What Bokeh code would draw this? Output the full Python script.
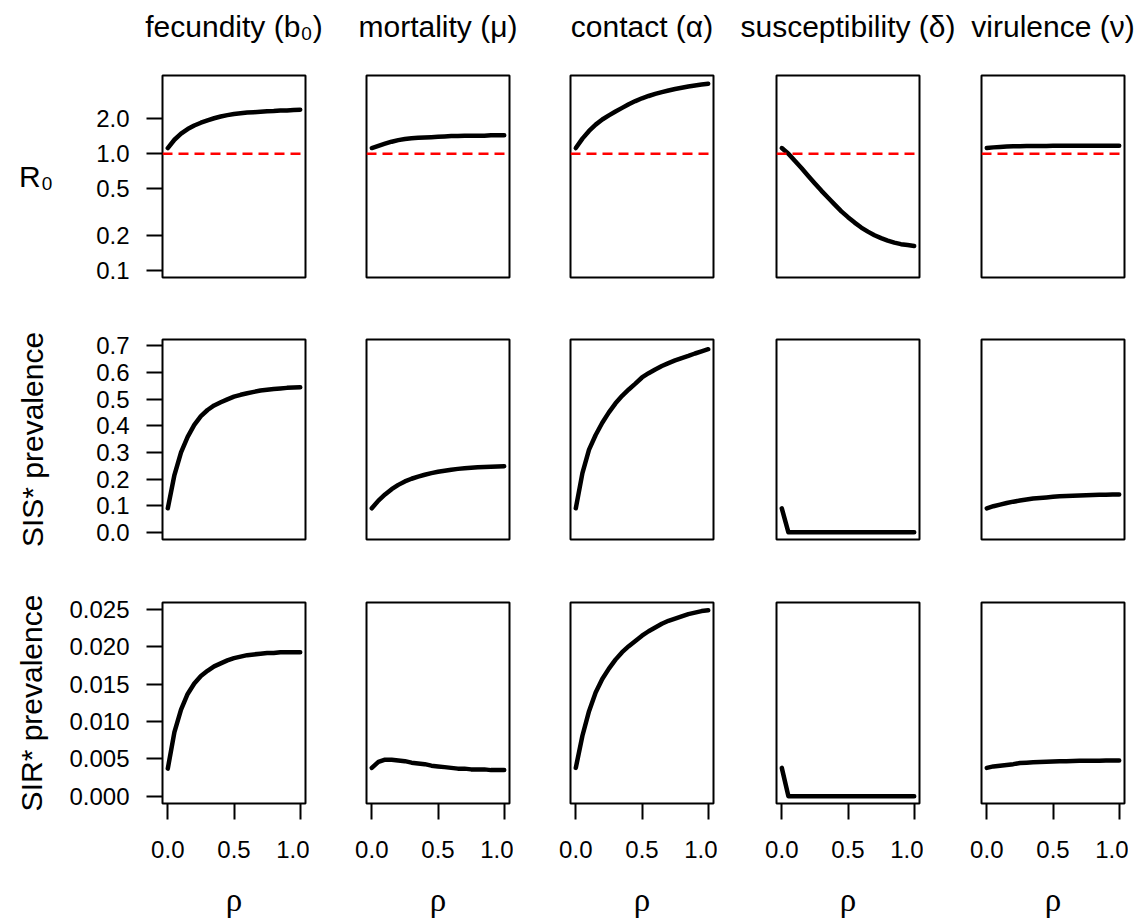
from bokeh.plotting import figure
from bokeh.layouts import gridplot, column
from bokeh.models import Range1d, FixedTicker, PrintfTickFormatter, Span
from bokeh.core.properties import value
from bokeh.embed import file_html
from bokeh.resources import INLINE

# ---------------- data ----------------
rho = [0.0, 0.05, 0.10, 0.15, 0.20, 0.25, 0.30, 0.35, 0.40, 0.45, 0.50,
       0.55, 0.60, 0.65, 0.70, 0.75, 0.80, 0.85, 0.90, 0.95, 1.0]

titles = ["fecundity (b\u2080)", "mortality (\u03bc)", "contact (\u03b1)",
          "susceptibility (\u03b4)", "virulence (\u03bd)"]
row_labels = ["R\u2080", "SIS* prevalence", "SIR* prevalence"]
x_label = "\u03c1"

# R0
r0_fecundity = [1.12, 1.32, 1.49, 1.63, 1.75, 1.85, 1.94, 2.02, 2.09, 2.15, 2.20,
                2.23, 2.26, 2.28, 2.30, 2.32, 2.33, 2.35, 2.36, 2.38, 2.39]
r0_mortality = [1.12, 1.17, 1.22, 1.27, 1.31, 1.34, 1.36, 1.37, 1.38, 1.39, 1.40,
                1.41, 1.42, 1.42, 1.43, 1.43, 1.43, 1.43, 1.44, 1.44, 1.44]
r0_contact = [1.12, 1.35, 1.57, 1.78, 1.97, 2.14, 2.31, 2.48, 2.67, 2.84, 3.00,
              3.14, 3.27, 3.39, 3.50, 3.60, 3.69, 3.79, 3.87, 3.94, 4.00]
r0_susceptibility = [1.12, 1.00, 0.865, 0.75, 0.645, 0.555, 0.48, 0.418, 0.365, 0.32, 0.285,
                     0.256, 0.232, 0.214, 0.199, 0.188, 0.179, 0.172, 0.167, 0.164, 0.161]
r0_virulence = [1.12, 1.135, 1.145, 1.152, 1.158, 1.162, 1.165, 1.167, 1.168, 1.169, 1.17,
                1.17, 1.17, 1.17, 1.17, 1.17, 1.17, 1.17, 1.17, 1.17, 1.17]

# SIS* prevalence
sis_fecundity = [0.09, 0.215, 0.300, 0.358, 0.403, 0.436, 0.459, 0.476, 0.488, 0.499, 0.509,
                 0.516, 0.522, 0.527, 0.532, 0.535, 0.538, 0.540, 0.542, 0.543, 0.544]
sis_mortality = [0.09, 0.119, 0.142, 0.162, 0.178, 0.191, 0.201, 0.209, 0.216, 0.222, 0.227,
                 0.231, 0.235, 0.238, 0.240, 0.242, 0.244, 0.245, 0.246, 0.247, 0.248]
sis_contact = [0.09, 0.222, 0.310, 0.365, 0.411, 0.450, 0.484, 0.512, 0.536, 0.558, 0.581,
               0.597, 0.611, 0.624, 0.635, 0.645, 0.654, 0.662, 0.671, 0.679, 0.687]
sis_susceptibility = [0.09, 0.0, 0.0, 0.0, 0.0, 0.0, 0.0, 0.0, 0.0, 0.0, 0.0,
                      0.0, 0.0, 0.0, 0.0, 0.0, 0.0, 0.0, 0.0, 0.0, 0.0]
sis_virulence = [0.09, 0.098, 0.104, 0.110, 0.115, 0.119, 0.123, 0.127, 0.129, 0.131, 0.133,
                 0.135, 0.136, 0.137, 0.138, 0.139, 0.140, 0.141, 0.141, 0.142, 0.142]

# SIR* prevalence
sir_fecundity = [0.0037, 0.0086, 0.0116, 0.0137, 0.0151, 0.0161, 0.0168, 0.0174, 0.0178, 0.0182, 0.0185,
                 0.0187, 0.0189, 0.0190, 0.0191, 0.0192, 0.0192, 0.0193, 0.0193, 0.0193, 0.0193]
sir_mortality = [0.0038, 0.0046, 0.0049, 0.0049, 0.0048, 0.0047, 0.0045, 0.0044, 0.0043, 0.0041, 0.0040,
                 0.0039, 0.0038, 0.0037, 0.0037, 0.0036, 0.0036, 0.0036, 0.0035, 0.0035, 0.0035]
sir_contact = [0.0038, 0.0081, 0.0114, 0.0139, 0.0157, 0.0171, 0.0183, 0.0193, 0.0201, 0.0208, 0.0215,
               0.0221, 0.0226, 0.0231, 0.0235, 0.0238, 0.0241, 0.0244, 0.0246, 0.0248, 0.0249]
sir_susceptibility = [0.0038, 0.0, 0.0, 0.0, 0.0, 0.0, 0.0, 0.0, 0.0, 0.0, 0.0,
                      0.0, 0.0, 0.0, 0.0, 0.0, 0.0, 0.0, 0.0, 0.0, 0.0]
sir_virulence = [0.0038, 0.0040, 0.0041, 0.0042, 0.0043, 0.00445, 0.0045, 0.00455, 0.0046, 0.00463, 0.00466,
                 0.00468, 0.0047, 0.00472, 0.00474, 0.00475, 0.00476, 0.00477, 0.00478, 0.00479, 0.0048]

rows = [
    [r0_fecundity, r0_mortality, r0_contact, r0_susceptibility, r0_virulence],
    [sis_fecundity, sis_mortality, sis_contact, sis_susceptibility, sis_virulence],
    [sir_fecundity, sir_mortality, sir_contact, sir_susceptibility, sir_virulence],
]

x_ticks = [0.0, 0.5, 1.0]
y_ticks = [
    [0.1, 0.2, 0.5, 1.0, 2.0],
    [0.0, 0.1, 0.2, 0.3, 0.4, 0.5, 0.6, 0.7],
    [0.000, 0.005, 0.010, 0.015, 0.020, 0.025],
]
y_formats = ["%.1f", "%.1f", "%.3f"]
y_ranges = [(0.0863, 4.71), (-0.027, 0.7235), (-0.00097, 0.02595)]

# ---------------- layout geometry ----------------
col_left = [162, 57, 57, 59, 58]
col_right = 4
FW = 143
STRIP_H = 50
STRIP_W = 1136
row_top = [75 - STRIP_H, 48, 49]
row_frame = [202, 200, 201]
row_bottom = [14, 14, 120]
ylab_standoff = [40, 44, 18]
TITLE_BASELINE = 26   # pixels from the top of the page

FONT = "Liberation Sans"
TICK_SIZE = "24px"
LAB_SIZE = "30px"

col_widths = [cl + FW + col_right for cl in col_left]

# centres of the panel frames (for the column headers)
title_x = []
acc = 0
for c in range(5):
    title_x.append(acc + col_left[c] + FW / 2.0)
    acc += col_widths[c]

# ---------------- header strip with the column titles ----------------
head = figure(width=STRIP_W, height=STRIP_H, output_backend="svg", toolbar_location=None,
              x_range=Range1d(0, STRIP_W), y_range=Range1d(STRIP_H, 0),
              x_axis_location=None, y_axis_location=None,
              min_border=0, outline_line_color=None)
head.xgrid.visible = False
head.ygrid.visible = False
head.text(x=title_x, y=[TITLE_BASELINE] * 5, text=titles,
          text_align="center", text_baseline="alphabetic",
          text_font=value(FONT), text_font_size=value(LAB_SIZE), text_color="black")

# ---------------- panels ----------------
grid = []
for r in range(3):
    line = []
    for c in range(5):
        w = col_widths[c]
        h = row_top[r] + row_frame[r] + row_bottom[r]
        p = figure(width=w, height=h, output_backend="svg", toolbar_location=None,
                   x_range=Range1d(-0.04, 1.04),
                   y_range=Range1d(*y_ranges[r]),
                   y_axis_type="log" if r == 0 else "linear",
                   x_axis_location="below" if r == 2 else None,
                   y_axis_location="left" if c == 0 else None,
                   min_border_left=col_left[c], min_border_right=col_right,
                   min_border_top=row_top[r], min_border_bottom=row_bottom[r])
        p.xgrid.visible = False
        p.ygrid.visible = False
        p.outline_line_color = "black"
        p.outline_line_width = 2
        p.background_fill_color = "white"
        p.border_fill_color = "white"

        for ax in p.axis:
            ax.axis_line_color = None
            ax.major_tick_in = 0
            ax.major_tick_out = 16
            ax.major_tick_line_width = 2
            ax.major_tick_line_color = "black"
            ax.minor_tick_in = 0
            ax.minor_tick_out = 0
            ax.major_label_text_font = FONT
            ax.major_label_text_font_size = TICK_SIZE
            ax.major_label_text_color = "black"
            ax.axis_label_text_font_style = "normal"
            ax.axis_label_text_color = "black"
        if r == 2:
            xa = p.xaxis[0]
            xa.ticker = FixedTicker(ticks=x_ticks)
            xa.formatter = PrintfTickFormatter(format="%.1f")
            xa.major_label_standoff = 21
            xa.axis_label = x_label
            xa.axis_label_text_font = "Liberation Serif"
            xa.axis_label_text_font_size = "33px"
            xa.axis_label_standoff = 21
        if c == 0:
            ya = p.yaxis[0]
            ya.ticker = FixedTicker(ticks=y_ticks[r])
            ya.formatter = PrintfTickFormatter(format=y_formats[r])
            ya.major_label_standoff = 17
            ya.axis_label = row_labels[r]
            ya.axis_label_text_font = FONT
            ya.axis_label_text_font_size = LAB_SIZE
            ya.axis_label_standoff = ylab_standoff[r]
            if r == 0:
                ya.axis_label_orientation = "horizontal"

        if r == 0:
            p.add_layout(Span(location=1.0, dimension="width", line_color="red",
                              line_dash="10 6", line_width=2.5))

        p.line(rho, rows[r][c], line_color="black", line_width=4.5,
               line_cap="round", line_join="round")
        line.append(p)
    grid.append(line)

layout = column(head, gridplot(grid, toolbar_location=None), spacing=0)
open("out.html", "w").write(file_html(layout, INLINE))
